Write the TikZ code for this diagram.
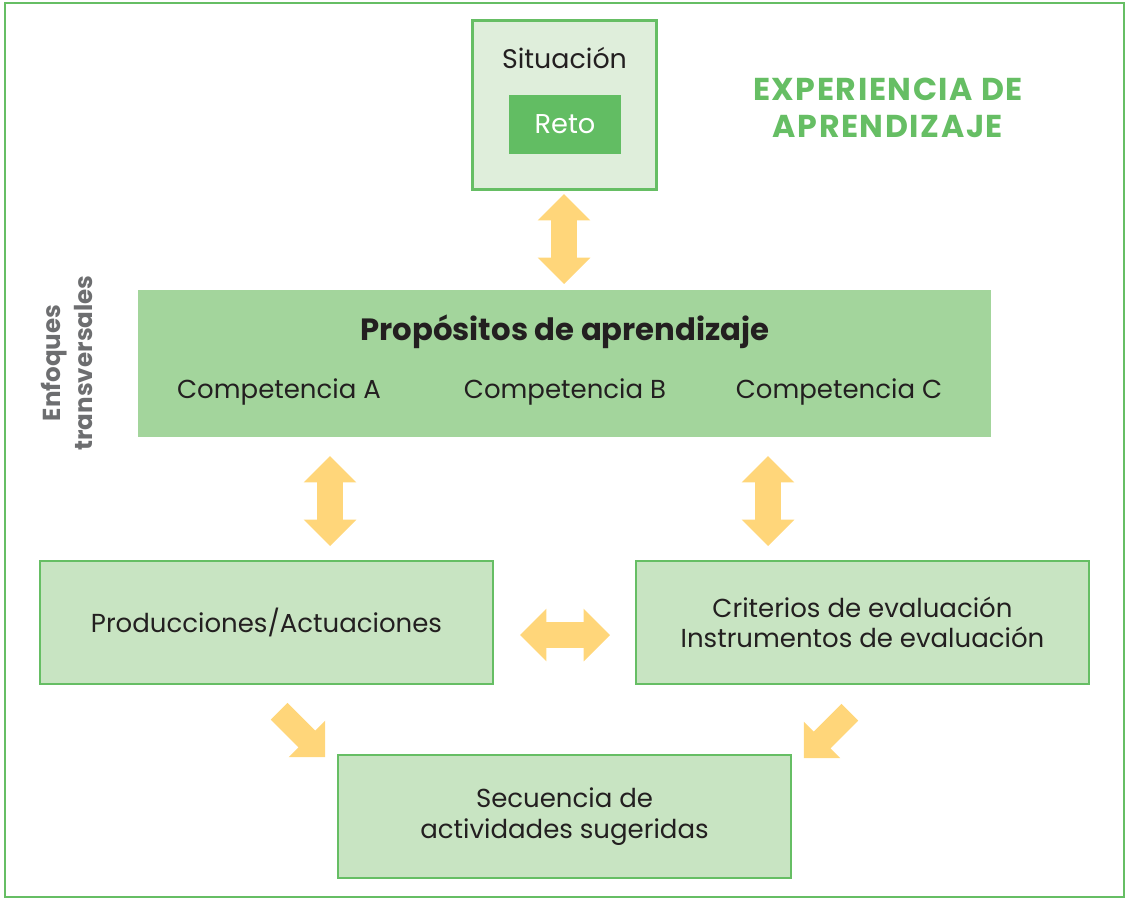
\documentclass[tikz,border=0pt]{standalone}
\usepackage{fontspec}
\setmainfont{Poppins}
\usepackage{tikz}
\usetikzlibrary{shapes.arrows}

\definecolor{verde}{RGB}{102,190,100}
\definecolor{verdereto}{RGB}{98,189,99}
\definecolor{verdeclaro}{RGB}{223,238,219}
\definecolor{verdeprop}{RGB}{163,213,156}
\definecolor{verdecaja}{RGB}{200,228,194}
\definecolor{flecha}{RGB}{255,214,122}
\definecolor{gris}{RGB}{109,110,112}
\definecolor{texto}{RGB}{35,31,32}

\tikzstyle{caja}=[draw=verde,line width=1.5pt,fill=verdecaja,minimum width=9.06cm,minimum height=2.46cm,align=center,font=\fontsize{14.8}{17.3}\selectfont,text=texto]
\tikzstyle{txt}=[font=\fontsize{14.8}{17}\selectfont,text=texto,inner sep=0]
\tikzstyle{dflecha}=[double arrow,fill=flecha,inner xsep=0,inner ysep=0.25cm,minimum height=1.8cm,double arrow head extend=0.27cm]
\tikzstyle{sflecha}=[single arrow,fill=flecha,inner xsep=0,inner ysep=0.23cm,minimum height=1.3cm,single arrow head extend=0.28cm]

\begin{document}
\begin{tikzpicture}[x=0.02cm,y=-0.02cm]
    \useasboundingbox (0,0) rectangle (1129,900);

                        % marco
                        \node[draw=verde,line width=1.2pt,minimum width=22.4cm,minimum height=17.88cm] (marco) at (564.5,450) {};

                        % situacion y reto
                        \node[draw=verde,line width=1.7pt,fill=verdeclaro,minimum width=3.7cm,minimum height=3.4cm] (sit) at (564.5,105) {};
                        \node[txt,font=\fontsize{15.3}{17}\selectfont] (sittxt) at (564.5,58) {Situación};
                        \node[fill=verdereto,minimum width=2.24cm,minimum height=1.18cm,text=white,font=\fontsize{15.5}{17}\selectfont] (reto) at (565,124.5) {Reto};

                        \node[align=center,text=verde,font=\fontsize{18}{21}\selectfont\bfseries\addfontfeatures{LetterSpace=5}] (titulo) at (888,108) {EXPERIENCIA DE\\APRENDIZAJE};

                        \node[rotate=90,align=center,text=gris,font=\fontsize{14}{18}\selectfont\bfseries] (enfoques) at (67,363) {Enfoques\\transversales};

                        % propositos
                        \node[fill=verdeprop,minimum width=17.06cm,minimum height=2.94cm] (prop) at (564.5,363.5) {};
                        \node[txt,font=\fontsize{17.5}{18}\selectfont\bfseries] (proptxt) at (565,332) {Propósitos de aprendizaje};
                        \node[txt] (compa) at (279,392) {Competencia A};
                        \node[txt] (compb) at (565,392) {Competencia B};
                        \node[txt] (compc) at (839,392) {Competencia C};

                        % cajas
                        \node[caja] (prod) at (266.5,622.5) {Producciones/Actuaciones};
                        \node[caja] (crit) at (862.5,622.5) {Criterios de evaluación\\Instrumentos de evaluación};
                        \node[caja] (sec) at (564.5,816.5) {Secuencia de\\actividades sugeridas};

                        % flechas
                        \node[dflecha,rotate=90] (f1) at (564,239) {};
                        \node[dflecha,rotate=90] (f2) at (330,501) {};
                        \node[dflecha,rotate=90] (f3) at (768,501) {};
                        \node[dflecha] (f4) at (565,635) {};
                        \node[sflecha,rotate=-45] (f5) at (298,730) {};
                        \node[sflecha,rotate=-135] (f6) at (831,731) {};

    \end{tikzpicture}
\end{document}
